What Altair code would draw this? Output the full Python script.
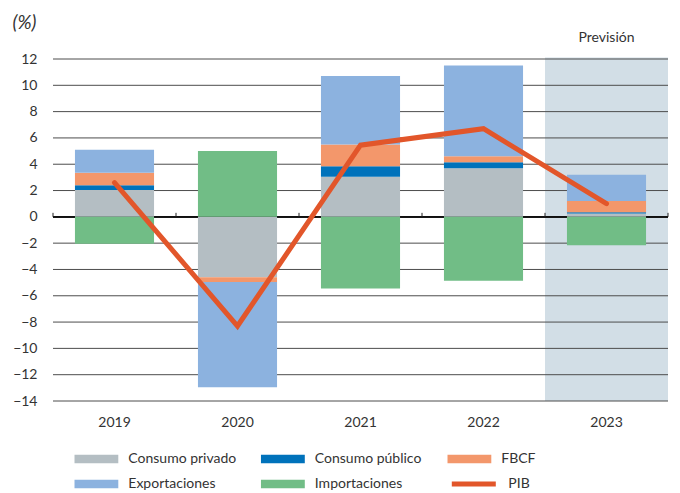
import altair as alt
import pandas as pd

years = ["2019", "2020", "2021", "2022", "2023"]
components = ["Consumo privado", "Consumo público", "FBCF", "Exportaciones", "Importaciones"]
consumo_privado = [2.05, -4.6, 3.05, 3.7, 0.25]
consumo_publico = [0.35, 0.0, 0.8, 0.45, 0.1]
fbcf = [0.95, -0.35, 1.65, 0.45, 0.85]
exportaciones = [1.75, -8.0, 5.2, 6.9, 2.0]
importaciones = [-2.05, 5.0, -5.45, -4.85, -2.15]
pib = [2.6, -8.3, 5.45, 6.7, 1.0]
y_ticks = [-14, -12, -10, -8, -6, -4, -2, 0, 2, 4, 6, 8, 10, 12]
forecast_year = "2023"
forecast_label = "Previsión"

comp_colors = ["#b4bec3", "#0072bb", "#f3976b", "#8cb2df", "#71bd86"]
pib_color = "#e2562a"
shade_color = "#d2dee6"
text_color = "#333333"
FONT = "Lato"

series = [consumo_privado, consumo_publico, fbcf, exportaciones, importaciones]
rows = []
for ci, (name, vals) in enumerate(zip(components, series)):
    for y, v in zip(years, vals):
        rows.append({"year": y, "component": name, "value": v, "order": ci})
bars_df = pd.DataFrame(rows)
pib_df = pd.DataFrame({"year": years, "value": pib, "serie": ["PIB"] * len(years)})
shade_df = pd.DataFrame({"year": [forecast_year], "top": [12.12], "bottom": [-14.0], "label": [forecast_label]})
grid_df = pd.DataFrame({"tick": [t for t in y_ticks if t != 0]})
years_df = pd.DataFrame({"year": years})
last_df = pd.DataFrame({"year": [years[-1]]})

W, H = 615, 342

xscale = alt.Scale(type="band", domain=years, paddingInner=0, paddingOuter=0)
yscale = alt.Scale(domain=[-14, 12], nice=False, zero=False)

x_axis = alt.Axis(orient="bottom", labels=True, ticks=False, domain=False, grid=False,
                  labelPadding=14, labelFont=FONT, labelFontSize=14,
                  labelColor=text_color, labelAngle=0, title=None)
y_axis = alt.Axis(values=y_ticks, grid=False, domain=False, ticks=False, tickSize=0,
                  labelPadding=16, labelFont=FONT, labelFontSize=14,
                  labelColor=text_color,
                  title="(%)", titleAngle=0, titleAlign="left", titleBaseline="middle",
                  titleX=-41, titleY=-37, titleFont=FONT, titleFontSize=19,
                  titleFontStyle="italic", titleFontWeight="normal",
                  titleColor=text_color)

X = lambda **kw: alt.X("year:N", scale=xscale, axis=x_axis, **kw)

shade = alt.Chart(shade_df).mark_rect(color=shade_color, x2Offset=3).encode(
    x=X(),
    y=alt.Y("top:Q", scale=yscale, axis=y_axis, title="(%)"),
    y2="bottom:Q",
)

grid = alt.Chart(grid_df).mark_rule(color="#4d4d4d", strokeWidth=1).encode(
    y=alt.Y("tick:Q", scale=yscale, axis=y_axis, title="(%)"),
)

zero_line = alt.Chart(years_df).mark_rule(color="#111111", strokeWidth=1.2).encode(
    y=alt.datum(0, scale=yscale, axis=y_axis, title="(%)"),
)

ticks_a = alt.Chart(years_df).mark_rule(color="#222222", strokeWidth=1, y2Offset=-4).encode(
    x=X(bandPosition=0),
    y=alt.datum(0, scale=yscale, axis=y_axis, title="(%)"),
    y2=alt.datum(0),
)
ticks_b = alt.Chart(last_df).mark_rule(color="#222222", strokeWidth=1, y2Offset=-4).encode(
    x=X(bandPosition=1),
    y=alt.datum(0, scale=yscale, axis=y_axis, title="(%)"),
    y2=alt.datum(0),
)

bars = alt.Chart(bars_df).mark_bar(width={"band": 0.643}).encode(
    x=X(),
    y=alt.Y("value:Q", stack="zero", scale=yscale, axis=y_axis, title="(%)"),
    color=alt.Color("component:N", scale=alt.Scale(domain=components, range=comp_colors),
                    legend=alt.Legend(orient="none", legendX=21.3, legendY=392, title=None,
                                      direction="horizontal",
                                      columns=3, gridAlign="all", columnPadding=24.5,
                                      rowPadding=9, clipHeight=16,
                                      symbolType="M-1,-0.19H1V0.19H-1Z", symbolSize=1936,
                                      symbolStrokeWidth=0, labelOffset=10,
                                      labelFont=FONT, labelFontSize=14, labelColor=text_color,
                                      padding=0)),
    order=alt.Order("order:Q"),
)

line = alt.Chart(pib_df).mark_line(strokeWidth=5, strokeCap="round", strokeJoin="miter").encode(
    x=X(),
    y=alt.Y("value:Q", scale=yscale, axis=y_axis, title="(%)"),
    stroke=alt.Stroke("serie:N", scale=alt.Scale(domain=["PIB"], range=[pib_color]),
                      legend=alt.Legend(orient="none", legendX=396.3, legendY=417, title=None,
                                        symbolType="stroke", symbolSize=1936,
                                        symbolStrokeWidth=5, labelOffset=10, clipHeight=16,
                                        labelFont=FONT, labelFontSize=14,
                                        labelColor=text_color, padding=0)),
)

label = alt.Chart(shade_df).mark_text(font=FONT, fontSize=14, color=text_color, dy=-19,
                                      baseline="middle").encode(
    x=X(),
    y=alt.Y("top:Q", scale=yscale, axis=y_axis, title="(%)"),
    text="label:N",
)

chart = alt.layer(shade, grid, zero_line, ticks_a, ticks_b, bars, line, label).properties(
    width=W, height=H,
    autosize=alt.AutoSizeParams(type="none"),
    padding={"left": 45, "top": 51, "right": 4, "bottom": 90},
).configure_view(stroke=None)

chart.save("out.html", embed_options={"renderer": "svg", "actions": False})
